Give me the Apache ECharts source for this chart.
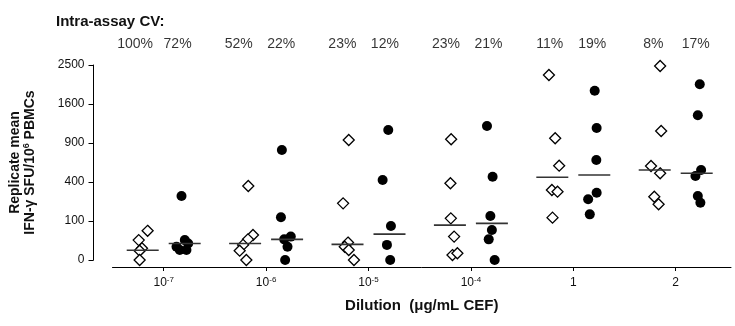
<!DOCTYPE html>
<html>
<head>
<meta charset="utf-8">
<script src="https://cdn.jsdelivr.net/npm/echarts@6/dist/echarts.min.js"></script>
<style>
  html, body { margin: 0; padding: 0; background: #fff; }
  #chart { width: 735px; height: 326px; }
</style>
</head>
<body>
<div id="chart"></div>
<script>
// Dilution groups along the x axis (caret marks an exponent)
const tickLabels = ['10^-7', '10^-6', '10^-5', '10^-4', '1', '2'];

// Replicate means (SFU per 10^6 PBMCs), open-diamond donors per dilution
const diamondValues = [
  [56, 26, 9, 5.7, 0],
  [360, 41, 28, 15, 5.7, 0],
  [947, 211, 20, 11.6, 6.6, 0],
  [958, 387, 114, 36, 1.6, 3.0],
  [2250, 974, 585, 322, 307, 118],
  [2474, 1094, 581, 494, 263, 204]
];
// horizontal scatter of each diamond inside its group (category units)
const diamondJitter = [
  [-0.157, -0.244, -0.212, -0.235, -0.235],
  [-0.174, -0.128, -0.177, -0.225, -0.258, -0.193],
  [-0.193, -0.248, -0.200, -0.232, -0.193, -0.142],
  [-0.193, -0.200, -0.196, -0.164, -0.180, -0.132],
  [-0.238, -0.177, -0.138, -0.209, -0.154, -0.203],
  [-0.152, -0.142, -0.241, -0.152, -0.209, -0.167]
];

// Replicate means, filled-circle donors per dilution
const circleValues = [
  [269, 26, 18, 11.6, 6.6, 6.6],
  [795, 120, 36, 28, 11.6, 0],
  [1111, 421, 76, 15, 0],
  [1181, 456, 127, 59, 28, 0],
  [1884, 1146, 657, 298, 242, 137],
  [2029, 1377, 533, 464, 269, 216]
];
const circleJitter = [
  [0.174, 0.206, 0.239, 0.125, 0.157, 0.222],
  [0.154, 0.145, 0.241, 0.177, 0.209, 0.186],
  [0.193, 0.138, 0.219, 0.180, 0.212],
  [0.157, 0.212, 0.190, 0.205, 0.174, 0.232],
  [0.209, 0.228, 0.225, 0.228, 0.145, 0.161],
  [0.235, 0.216, 0.248, 0.193, 0.216, 0.241]
];

// group medians (horizontal bars)
const diamondMedians = [6.2, 18, 16, 80, 450, 533];
const circleMedians = [18, 28, 44, 88, 475, 494];

// intra-assay coefficients of variation printed above each group
const cvDiamond = ['100%', '52%', '23%', '23%', '11%', '8%'];
const cvCircle = ['72%', '22%', '12%', '21%', '19%', '17%'];

// y ticks on the square-root scale
const yTicks = [0, 100, 400, 900, 1600, 2500];

const SUB = 0.205;              // offset of each sub-group from the group centre
const FONT = 'Liberation Sans, Arial, Helvetica, sans-serif';
const sq = v => Math.sqrt(v);

function pts(values, jitter) {
  const out = [];
  values.forEach((grp, g) => grp.forEach((v, i) => out.push([g + jitter[g][i], sq(v)])));
  return out;
}
const diamondPts = pts(diamondValues, diamondJitter);
const circlePts = pts(circleValues, circleJitter);
const medianPts = [];
diamondMedians.forEach((m, g) => medianPts.push([g - SUB, sq(m)]));
circleMedians.forEach((m, g) => medianPts.push([g + SUB, sq(m)]));
const cvPts = [];
cvDiamond.forEach((t, g) => cvPts.push({ value: [g - SUB, 0.5], label: { formatter: t } }));
cvCircle.forEach((t, g) => cvPts.push({ value: [g + SUB, 0.5], label: { formatter: t } }));

function tickText(s) {
  const k = s.indexOf('^');
  return k < 0 ? '{b|' + s + '}' : '{b|' + s.slice(0, k) + '}{s|' + s.slice(k + 1) + '}';
}

const xRange = { min: -0.5, max: 5.54 };
const chart = echarts.init(document.getElementById('chart'), null, { renderer: 'canvas' });
chart.setOption({
  animation: false,
  backgroundColor: '#fff',
  textStyle: { fontFamily: FONT },
  title: {
    text: 'Intra-assay CV:',
    left: 56, top: 14, padding: 0,
    textStyle: { fontFamily: FONT, fontSize: 15, fontWeight: 'bold', color: '#111' }
  },
  grid: [
    { left: 105, right: 4, top: 65, bottom: 66, containLabel: false },
    { left: 105, right: 4, top: 38, height: 14 }
  ],
  xAxis: [
    {
      type: 'value', gridIndex: 0, min: xRange.min, max: xRange.max,
      offset: 7,
      axisLine: { show: true, onZero: false, lineStyle: { color: '#000', width: 1 } },
      axisTick: { show: true, length: 4, customValues: [0, 1, 2, 3, 4, 5], lineStyle: { color: '#000' } },
      splitLine: { show: false },
      axisLabel: {
        customValues: [0, 1, 2, 3, 4, 5],
        margin: 9,
        formatter: v => tickText(tickLabels[Math.round(v)]),
        rich: {
          b: { fontFamily: FONT, fontSize: 12, color: '#111', lineHeight: 14 },
          s: { fontFamily: FONT, fontSize: 8, color: '#111', lineHeight: 8, verticalAlign: 'top' }
        }
      },
      name: 'Dilution  (μg/mL CEF)',
      nameLocation: 'middle',
      nameGap: 31,
      nameTextStyle: { fontFamily: FONT, fontSize: 15, fontWeight: 'bold', color: '#111' }
    },
    { type: 'value', gridIndex: 1, min: xRange.min, max: xRange.max, show: false }
  ],
  yAxis: [
    {
      type: 'value', gridIndex: 0, min: 0, max: 50, interval: 10,
      offset: 19,
      axisLine: { show: true, onZero: false, lineStyle: { color: '#000', width: 1 } },
      axisTick: { show: true, length: 5, lineStyle: { color: '#000' } },
      splitLine: { show: false },
      axisLabel: {
        margin: 9,
        fontFamily: FONT, fontSize: 12, color: '#111',
        formatter: v => String(yTicks[Math.round(v / 10)])
      },
      name: '{t|Replicate mean}\n{t|IFN-γ SFU/10}{u|6}{t| PBMCs}',
      nameLocation: 'middle',
      nameRotate: 90,
      nameGap: 56,
      nameTextStyle: {
        rich: {
          t: { fontFamily: FONT, fontSize: 14, fontWeight: 'bold', color: '#111', lineHeight: 15 },
          u: { fontFamily: FONT, fontSize: 9, fontWeight: 'bold', color: '#111', lineHeight: 9, verticalAlign: 'top' }
        }
      }
    },
    { type: 'value', gridIndex: 1, min: 0, max: 1, show: false }
  ],
  series: [
    {
      type: 'scatter', xAxisIndex: 0, yAxisIndex: 0,
      symbol: 'diamond', symbolSize: 11,
      itemStyle: { color: '#fff', borderColor: '#000', borderWidth: 1.3, opacity: 1 },
      data: diamondPts, z: 3
    },
    {
      type: 'scatter', xAxisIndex: 0, yAxisIndex: 0,
      symbol: 'circle', symbolSize: 10,
      itemStyle: { color: '#000', opacity: 1 },
      data: circlePts, z: 3
    },
    {
      type: 'scatter', xAxisIndex: 0, yAxisIndex: 0,
      symbol: 'rect', symbolSize: [32, 1.6],
      itemStyle: { color: '#333', opacity: 1 },
      data: medianPts, z: 4
    },
    {
      type: 'scatter', xAxisIndex: 1, yAxisIndex: 1,
      symbolSize: 1,
      itemStyle: { color: 'rgba(255,255,255,0)' },
      label: {
        show: true, position: [0, 0], align: 'center', verticalAlign: 'middle',
        fontFamily: FONT, fontSize: 14, color: '#000', textBorderWidth: 0
      },
      data: cvPts, silent: true
    }
  ]
});
</script>
</body>
</html>
